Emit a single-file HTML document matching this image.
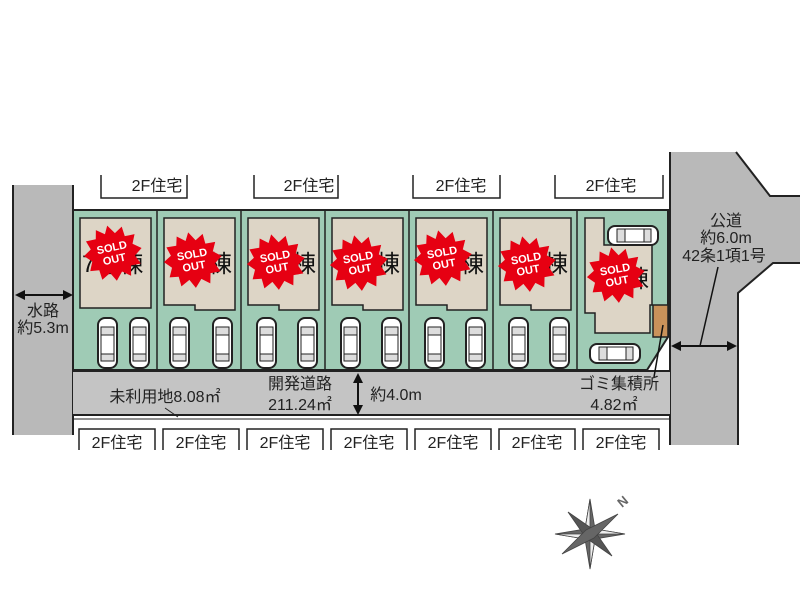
<!DOCTYPE html>
<html><head><meta charset="utf-8"><style>
html,body{margin:0;padding:0;background:#fff;width:800px;height:600px;overflow:hidden}
text{font-family:"Liberation Sans","Noto Sans CJK JP",sans-serif}
</style></head><body>
<svg width="800" height="600" viewBox="0 0 800 600" xmlns="http://www.w3.org/2000/svg">
<defs>
<g id="car">
<rect x="0" y="0" width="19" height="50" rx="7" fill="#fff" stroke="#222" stroke-width="2"/>
<rect x="3" y="9" width="13" height="8" fill="#ddd" stroke="#222" stroke-width="1"/>
<rect x="3" y="36" width="13" height="7" fill="#ddd" stroke="#222" stroke-width="1"/>
<line x1="3" y1="17" x2="3" y2="36" stroke="#222"/><line x1="16" y1="17" x2="16" y2="36" stroke="#222"/>
</g>
<polygon id="star" fill="#e60012" points="0,-28 6,-19 14,-24 15,-14 25,-14 21,-5 29,1 21,7 25,16 15,16 13,26 5,20 -2,28 -7,19 -16,24 -17,14 -26,13 -22,4 -29,-3 -21,-8 -24,-17 -14,-17 -12,-26 -4,-20"/>
</defs>
<!-- left waterway -->
<rect x="13" y="185" width="60" height="250" fill="#b9b9b9"/>
<line x1="13" y1="185" x2="13" y2="435" stroke="#222" stroke-width="2"/>
<line x1="73" y1="185" x2="73" y2="435" stroke="#222" stroke-width="2"/>
<!-- right road -->
<polygon points="670,152 736,152 770,196 800,196 800,263 773,263 738,293 738,445 670,445" fill="#b9b9b9"/>
<polyline points="736,152 770,196 800,196" fill="none" stroke="#222" stroke-width="2"/>
<polyline points="800,263 773,263 738,293 738,445" fill="none" stroke="#222" stroke-width="2"/>
<line x1="670" y1="152" x2="670" y2="445" stroke="#222" stroke-width="2"/>
<!-- green lots -->
<polygon points="73,210 668,210 668,337 647,370 73,370" fill="#9fcbb5" stroke="#222" stroke-width="2"/>
<!-- road -->
<rect x="73" y="371" width="597" height="44" fill="#c4c4c4"/>
<line x1="73" y1="371" x2="670" y2="371" stroke="#222" stroke-width="2"/>
<line x1="73" y1="415" x2="670" y2="415" stroke="#222" stroke-width="2"/>
<line x1="73" y1="419" x2="670" y2="419" stroke="#222" stroke-width="1"/>
<line x1="165" y1="408" x2="178" y2="417" stroke="#222"/>
<!-- lot dividers -->
<g stroke="#222" stroke-width="1.5">
<line x1="157" y1="210" x2="157" y2="371"/><line x1="241" y1="210" x2="241" y2="371"/>
<line x1="325" y1="210" x2="325" y2="371"/><line x1="409" y1="210" x2="409" y2="371"/>
<line x1="493" y1="210" x2="493" y2="371"/><line x1="577" y1="210" x2="577" y2="371"/>
</g>
<!-- houses -->
<g fill="#ddd5c6" stroke="#222" stroke-width="1.5">
<rect x="80" y="218" width="71" height="90"/>
<polygon points="164,218 235,218 235,310 195,310 195,305 164,305"/>
<polygon points="248,218 319,218 319,310 279,310 279,305 248,305"/>
<polygon points="332,218 403,218 403,310 363,310 363,305 332,305"/>
<polygon points="416,218 487,218 487,310 447,310 447,305 416,305"/>
<polygon points="500,218 571,218 571,310 531,310 531,305 500,305"/>
<polygon points="585,218 604,218 604,245 652,245 652,305 650,305 650,333 595,333 595,313 585,313"/>
</g>
<rect x="653" y="305" width="15" height="32" fill="#c9925a" stroke="#222" stroke-width="1.5"/>
<!-- cars -->
<use href="#car" x="98" y="318"/><use href="#car" x="130" y="318"/>
<use href="#car" x="170" y="318"/><use href="#car" x="213" y="318"/>
<use href="#car" x="257" y="318"/><use href="#car" x="298" y="318"/>
<use href="#car" x="341" y="318"/><use href="#car" x="382" y="318"/>
<use href="#car" x="425" y="318"/><use href="#car" x="466" y="318"/>
<use href="#car" x="509" y="318"/><use href="#car" x="550" y="318"/>
<use href="#car" transform="translate(608,245) rotate(-90)"/>
<use href="#car" transform="translate(590,363) rotate(-90)"/>
<!-- 棟 labels -->
<g font-size="24" fill="#111">
<text x="82" y="272">7号棟</text>
<text x="208" y="272">棟</text><text x="292" y="272">棟</text>
<text x="376" y="272">棟</text><text x="460" y="272">棟</text>
<text x="544" y="272">棟</text><text x="625" y="287">棟</text>
</g>
<!-- SOLD OUT -->
<g font-weight="bold" font-size="11" fill="#fff" text-anchor="middle">
<g transform="translate(113,253) rotate(-12)"><use href="#star"/><text y="-2">SOLD</text><text y="10">OUT</text></g>
<g transform="translate(193,260) rotate(-10)"><use href="#star"/><text y="-2">SOLD</text><text y="10">OUT</text></g>
<g transform="translate(276,262) rotate(-10)"><use href="#star"/><text y="-2">SOLD</text><text y="10">OUT</text></g>
<g transform="translate(359,263) rotate(-10)"><use href="#star"/><text y="-2">SOLD</text><text y="10">OUT</text></g>
<g transform="translate(443,258) rotate(-10)"><use href="#star"/><text y="-2">SOLD</text><text y="10">OUT</text></g>
<g transform="translate(527,264) rotate(-10)"><use href="#star"/><text y="-2">SOLD</text><text y="10">OUT</text></g>
<g transform="translate(616,275) rotate(-10)"><use href="#star"/><text y="-2">SOLD</text><text y="10">OUT</text></g>
</g>
<!-- top neighbor houses -->
<g fill="none" stroke="#222" stroke-width="1.5">
<polyline points="101,175 101,198 187,198 187,175"/>
<polyline points="254,175 254,198 338,198 338,175"/>
<polyline points="413,175 413,198 500,198 500,175"/>
<polyline points="555,175 555,198 663,198 663,175"/>
</g>
<g font-size="16" fill="#222" text-anchor="middle">
<text x="157" y="191">2F住宅</text><text x="309" y="191">2F住宅</text>
<text x="461" y="191">2F住宅</text><text x="611" y="191">2F住宅</text>
</g>
<!-- bottom neighbor houses -->
<g fill="none" stroke="#222" stroke-width="1.5">
<polyline points="79,450 79,429 155,429 155,450"/>
<polyline points="163,450 163,429 239,429 239,450"/>
<polyline points="247,450 247,429 323,429 323,450"/>
<polyline points="331,450 331,429 407,429 407,450"/>
<polyline points="415,450 415,429 491,429 491,450"/>
<polyline points="499,450 499,429 575,429 575,450"/>
<polyline points="583,450 583,429 659,429 659,450"/>
</g>
<g font-size="16" fill="#222" text-anchor="middle">
<text x="117" y="448">2F住宅</text><text x="201" y="448">2F住宅</text>
<text x="285" y="448">2F住宅</text><text x="369" y="448">2F住宅</text>
<text x="453" y="448">2F住宅</text><text x="537" y="448">2F住宅</text>
<text x="621" y="448">2F住宅</text>
</g>
<!-- dimension arrows -->
<g stroke="#111" stroke-width="2" fill="#111">
<line x1="20" y1="295" x2="68" y2="295"/>
<polygon points="15,295 25,290 25,300" stroke="none"/><polygon points="73,295 63,290 63,300" stroke="none"/>
<line x1="358" y1="378" x2="358" y2="410"/>
<polygon points="358,373 353,383 363,383" stroke="none"/><polygon points="358,415 353,405 363,405" stroke="none"/>
<line x1="676" y1="346" x2="732" y2="346"/>
<polygon points="671,346 681,341 681,351" stroke="none"/><polygon points="737,346 727,341 727,351" stroke="none"/>
<line x1="700" y1="346" x2="718" y2="267" stroke-width="1.5"/>
<line x1="654" y1="377" x2="663" y2="325" stroke-width="1.5"/>
</g>
<g font-size="16" fill="#222" text-anchor="middle">
<text x="43" y="316">水路</text><text x="43" y="333">約5.3m</text>
<text x="165" y="402">未利用地8.08㎡</text>
<text x="300" y="389">開発道路</text><text x="300" y="410">211.24㎡</text>
<text x="396" y="400">約4.0m</text>
<text x="619" y="389">ゴミ集積所</text><text x="614" y="410">4.82㎡</text>
<text x="726" y="226">公道</text><text x="726" y="243">約6.0m</text><text x="724" y="261">42条1項1号</text>
</g>
<!-- compass -->
<g transform="translate(590,534)" stroke="#444" stroke-width="0.8">
<polygon points="0,-35 5,-5 35,0 5,5 0,35 -5,5 -35,0 -5,-5" fill="#666"/>
<polygon points="0,-35 0,0 -5,-5" fill="#eee"/><polygon points="35,0 0,0 5,-5" fill="#eee"/>
<polygon points="0,35 0,0 5,5" fill="#eee"/><polygon points="-35,0 0,0 -5,5" fill="#eee"/>
<polygon points="-22,-22 4,-4 22,22 -4,4" fill="#555"/>
<polygon points="28,-20 4,4 -28,20 -4,-4" fill="#666"/>
</g>
<text x="622" y="508" font-size="13" fill="#666" font-weight="bold" transform="rotate(-40 622 508)">N</text>
</svg>
</body></html>
